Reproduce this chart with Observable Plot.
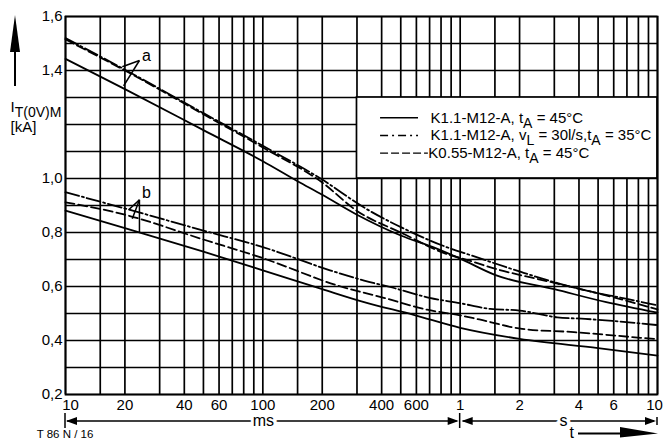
<!DOCTYPE html>
<html><head><meta charset="utf-8">
<script src="https://cdn.jsdelivr.net/npm/d3@7"></script>
<script src="https://cdn.jsdelivr.net/npm/@observablehq/plot@0.6"></script>
<style>body{margin:0;background:#fff} svg{display:block}</style>
</head><body><div id="chart"></div>
<script>
// ---- grid & ticks ----
const xGrid = [10,15,20,30,40,50,60,70,80,90,100,150,200,300,400,500,600,700,800,900,1000,1500,2000,3000,4000,5000,6000,7000,8000,9000,10000];
const yGrid = [0.2,0.3,0.4,0.5,0.6,0.7,0.8,0.9,1.0,1.1,1.2,1.3,1.4,1.5,1.6];
const xTicks = [20,40,60,100,200,400,600,1000,2000,4000,6000];
const xTickLabels = ["20","40","60","100","200","400","600","1","2","4","6"];
const yTicks = [0.2,0.4,0.6,0.8,1.0,1.4,1.6];

// ---- curves: time [ms], current [kA] ----
// group a
const tSolidA = [10,20,50,100,150,200,300,500,750,1000,1500,3000,5500,10000];
const vSolidA = [1.443,1.331,1.179,1.064,0.99,0.94,0.866,0.789,0.742,0.703,0.643,0.59,0.542,0.503];
const tDashDotA = [10,20,50,100,200,330,520,860,1140,2050,4000,7000,10000];
const vDashDotA = [1.52,1.403,1.242,1.121,0.996,0.89,0.814,0.745,0.715,0.653,0.591,0.554,0.53];
const tDashedA = [10,20,50,100,200,300,500,900,1000,1500,2900,6000,10000];
const vDashedA = [1.515,1.40,1.238,1.115,0.985,0.88,0.80,0.715,0.706,0.666,0.616,0.56,0.515];
// group b
const tSolidB = [10,20,50,100,200,326,581,1000,2000,5000,10000];
const vSolidB = [0.881,0.816,0.729,0.66,0.59,0.542,0.495,0.447,0.406,0.372,0.344];
const tDashDotB = [10,20,50,100,221,326,480,700,1000,1420,2000,3100,4300,10000];
const vDashDotB = [0.949,0.889,0.807,0.746,0.659,0.622,0.591,0.558,0.538,0.517,0.511,0.486,0.48,0.457];
const tDashedB = [10,20,50,100,248,410,680,1000,1250,2060,3770,8200,10000];
const vDashedB = [0.912,0.866,0.774,0.705,0.60,0.558,0.514,0.493,0.478,0.443,0.431,0.41,0.405];

// ---- legend ----
const legendLabels = ["K1.1-M12-A, t_{A} = 45°C", "K1.1-M12-A, v_{L} = 30l/s,t_{A} = 35°C", "K0.55-M12-A, t_{A} = 45°C"];
const legendRowV = [1.225, 1.159, 1.094];
const legendSampleX1 = [395, 395, 395];
const legendSampleX2 = [615, 615, 690];
const legendTextX = [708, 708, 690];
const legendDash = [null, "8,4,2,4", "8,3"];
const legendBoxX = [300, 10000];
const legendBoxY = [1.0, 1.3];

// ---- annotation leaders ----
const leaderX1 = [23.7,23.7,23.7,23.7,23.7];
const leaderY1 = [1.437,1.437,0.921,0.921,0.921];
const leaderX2 = [19.4,19.7,20.9,21.8,23.7];
const leaderY2 = [1.414,1.343,0.884,0.851,0.801];
const annLabels = ["a","b"];
const annX = [25.7,25.7];
const annY = [1.456,0.946];

const pts = (t,v) => t.map((d,i) => ({t:d, v:v[i]}));
const DASHDOT = "14,3,2,3", DASHED = "9,4";
const lineOpts = (dash) => ({x:"t", y:"v", stroke:"black", strokeWidth:1.8, curve:"monotone-x", strokeDasharray: dash});

const legendMarks = [];
legendLabels.forEach((lab,i) => {
  legendMarks.push(Plot.ruleY([legendRowV[i]], {x1:legendSampleX1[i], x2:legendSampleX2[i], stroke:"black", strokeWidth:1.4, strokeDasharray: legendDash[i]}));
  legendMarks.push(Plot.text([lab], {x:legendTextX[i], y:legendRowV[i], textAnchor:"start", fontSize:15, fill:"black"}));
});

const leaders = leaderX1.map((d,i)=>({x1:d, y1:leaderY1[i], x2:leaderX2[i], y2:leaderY2[i]}));
const anns = annLabels.map((d,i)=>({lab:d, x:annX[i], y:annY[i]}));
const xTickData = xTicks.map((d,i)=>({x:d, lab:xTickLabels[i]}));

const fmtY = d => d.toFixed(1).replace(".", ",");

const plot = Plot.plot({
  width: 667, height: 441,
  marginLeft: 65, marginRight: 10, marginTop: 16, marginBottom: 47,
  x: {type: "log", domain: [10, 10000], axis: null},
  y: {domain: [0.2, 1.6], axis: null},
  style: {fontFamily: "'Liberation Sans', Arial, sans-serif", fontSize: "15px", color: "black", background: "white"},
  marks: [
    Plot.ruleX(xGrid, {stroke: "black", strokeWidth: 1.7}),
    Plot.ruleY(yGrid, {stroke: "black", strokeWidth: 1.7}),
    Plot.rect([0], {x1: legendBoxX[0], x2: legendBoxX[1], y1: legendBoxY[0], y2: legendBoxY[1], fill: "white", stroke: "black", strokeWidth: 1.7}),
    Plot.frame({stroke: "black", strokeWidth: 1.8}),
    Plot.line(pts(tSolidA, vSolidA), lineOpts(null)),
    Plot.line(pts(tDashDotA, vDashDotA), lineOpts(DASHDOT)),
    Plot.line(pts(tDashedA, vDashedA), lineOpts(DASHED)),
    Plot.line(pts(tSolidB, vSolidB), lineOpts(null)),
    Plot.line(pts(tDashDotB, vDashDotB), lineOpts(DASHDOT)),
    Plot.line(pts(tDashedB, vDashedB), lineOpts(DASHED)),
    Plot.link(leaders, {x1:"x1", y1:"y1", x2:"x2", y2:"y2", stroke:"black", strokeWidth:1.5}),
    Plot.text(anns, {x:"x", y:"y", text:"lab", fontSize:16, fill:"black"}),
    ...legendMarks,
    // y tick labels
    Plot.text(yTicks, {y: d => d, frameAnchor: "left", text: fmtY, textAnchor: "end", dx: -3, fontSize: 15, fill: "black"}),
    // x tick labels
    Plot.text(xTickData, {x: "x", frameAnchor: "bottom", text: "lab", lineAnchor: "top", dy: 5, fontSize: 15, fill: "black"}),
    Plot.text([10], {x: d => d, frameAnchor: "bottom", text: () => "10", lineAnchor: "top", dy: 5, dx: 5, fontSize: 15, fill: "black"}),
    Plot.text([10000], {x: d => d, frameAnchor: "bottom", text: () => "10", lineAnchor: "top", dy: 5, dx: -3, fontSize: 15, fill: "black"}),
    Plot.text(["I_{T(0V)M}"], {frameAnchor: "top-left", dx: -55, dy: 85, textAnchor: "start", fontSize: 15, fill: "black"}),
    Plot.text(["[kA]"], {frameAnchor: "top-left", dx: -55, dy: 105, textAnchor: "start", fontSize: 15, fill: "black"})
  ]
});
document.getElementById("chart").appendChild(plot);

// ---- subscripts ----
d3.select(plot).selectAll("text").each(function() {
  const el = this;
  const s = el.textContent;
  if (!s.includes("_{")) return;
  el.textContent = "";
  const re = /_\{([^}]*)\}/g;
  let last = 0, m, shifted = false;
  const add = (txt, dy, fs) => {
    const t = document.createElementNS("http://www.w3.org/2000/svg", "tspan");
    t.textContent = txt;
    if (dy) t.setAttribute("dy", dy);
    if (fs) t.setAttribute("font-size", fs);
    el.appendChild(t);
  };
  while ((m = re.exec(s))) {
    const before = s.slice(last, m.index);
    if (before) { add(before, shifted ? -5 : null); shifted = false; }
    add(m[1], 5, 14); shifted = true;
    last = re.lastIndex;
  }
  const rest = s.slice(last);
  if (rest) add(rest, shifted ? -5 : null);
});

// ---- decorations below the chart and y arrow ----
const sx = plot.scale("x");
const X = v => sx.apply(v);
const svg = d3.select(plot);
const g = svg.append("g");
const yA = 421;
const seg = (x1,y1,x2,y2,w) => g.append("line").attr("x1",x1).attr("y1",y1).attr("x2",x2).attr("y2",y2).attr("stroke","black").attr("stroke-width",w);
const head = (xt, dir) => g.append("path").attr("d", `M${xt},${yA} L${xt+dir*11},${yA-4} L${xt+dir*11},${yA+4} Z`).attr("fill","black");
// ms arrow
seg(X(10)+2, yA, X(1000)-3, yA, 1.6);
head(X(10)+1, 1); head(X(1000)-1, -1);
// s arrow
seg(X(1000)+3, yA, X(10000)-3, yA, 1.6);
head(X(1000)+2, 1); head(X(10000)-1, -1);
// end ticks
seg(X(10), 413, X(10), 428, 1.5);
seg(X(1000), 413, X(1000), 428, 1.5);
seg(X(10000), 417, X(10000), 425, 1.5);
const lab = (txt, x, y, fs, anchor) => g.append("text").attr("x",x).attr("y",y).attr("font-size",fs).attr("text-anchor",anchor||"middle").attr("fill","black").attr("stroke","white").attr("stroke-width",6).attr("paint-order","stroke").text(txt);
lab("ms", X(100)+1, 426, 16);
lab("s", X(3360), 426, 16);
g.append("text").attr("x", X(3700)).attr("y", 438).attr("font-size",16).attr("text-anchor","middle").attr("fill","black").text("t");
// t arrow
const tip = X(10000)+1;
seg(tip-80, 433.5, tip-36, 433.5, 2);
g.append("path").attr("d", `M${tip-38},427 L${tip},433.5 L${tip-38},437.5 Z`).attr("fill","black");
// drawing code
g.append("text").attr("x", X(10)).attr("y", 438).attr("font-size",11.5).attr("fill","black").text("T 86 N / 16");
// y arrow
const ax = X(10) - 50;
seg(ax, 50, ax, 86, 2);
g.append("path").attr("d", `M${ax-5},52 L${ax},15 L${ax+5},52 Z`).attr("fill","black");
</script></body></html>
